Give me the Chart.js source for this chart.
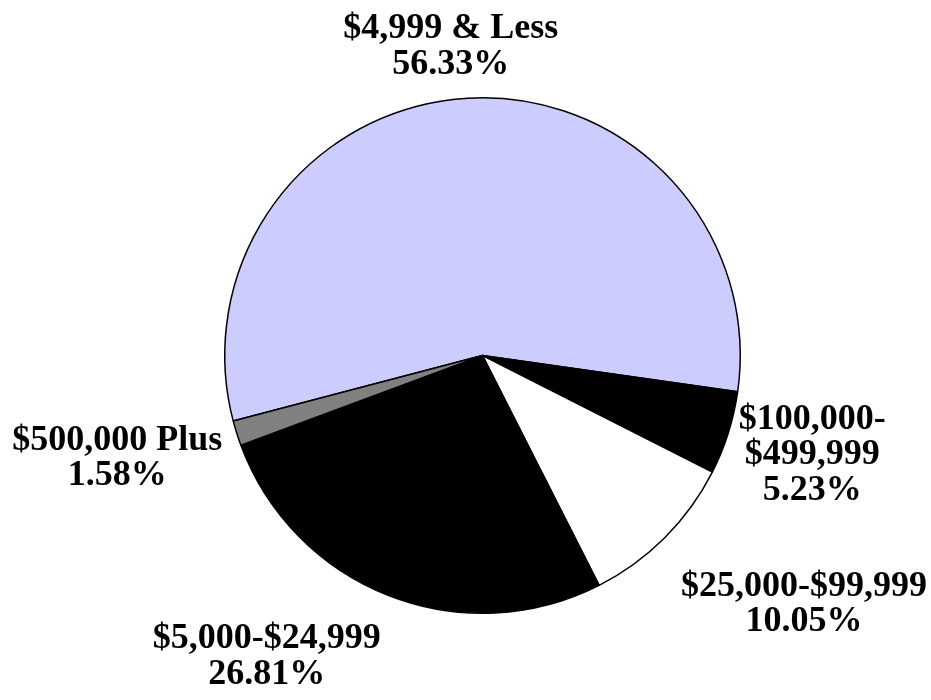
<!DOCTYPE html>
<html>
<head>
<meta charset="utf-8">
<script src="https://cdn.jsdelivr.net/npm/chart.js@4/dist/chart.umd.min.js"></script>
<style>
  html, body { margin: 0; padding: 0; background: #ffffff; }
  #wrap { width: 931px; height: 700px; }
</style>
</head>
<body>
<div id="wrap"><canvas id="c" width="931" height="700"></canvas></div>
<script>
// ---- data ----
const categories = ['$4,999 & Less', ['$100,000-', '$499,999'], '$25,000-$99,999', '$5,000-$24,999', '$500,000 Plus'];
const percentages = [56.33, 5.23, 10.05, 26.81, 1.58];
const sliceColors = ['#CCCCFF', '#000000', '#FFFFFF', '#000000', '#808080'];

// ---- label layout style (not data): extra radial distance beyond the rim, and angular nudge in degrees ----
const labelExtra = [55.6, 85.7, 147.1, 110.4, 120.9];
const labelNudge = [-2.5, -1.2, -7.6, 14.5, 2.3];
const labelFont = 'bold 36px "Liberation Serif", "Times New Roman", serif';
const lineHeight = 35.5;

const outsideLabels = {
  id: 'outsideLabels',
  afterDatasetsDraw(chart) {
    const ctx = chart.ctx;
    const meta = chart.getDatasetMeta(0);
    ctx.save();
    ctx.font = labelFont;
    ctx.fillStyle = '#000';
    ctx.textAlign = 'center';
    ctx.textBaseline = 'middle';
    meta.data.forEach((arc, i) => {
      const p = arc.getProps(['x', 'y', 'startAngle', 'endAngle', 'outerRadius'], true);
      const mid = (p.startAngle + p.endAngle) / 2 + labelNudge[i] * Math.PI / 180;
      const r = p.outerRadius + labelExtra[i];
      const cx = p.x + Math.cos(mid) * r;
      const cy = p.y + Math.sin(mid) * r + 3;
      const cat = categories[i];
      const lines = (Array.isArray(cat) ? cat.slice() : [cat]);
      lines.push(percentages[i].toFixed(2) + '%');
      lines.forEach((l, k) => {
        ctx.fillText(l, cx, cy + (k - (lines.length - 1) / 2) * lineHeight);
      });
    });
    ctx.restore();
  }
};

new Chart(document.getElementById('c'), {
  type: 'pie',
  data: {
    labels: categories,
    datasets: [{
      data: percentages,
      backgroundColor: sliceColors,
      borderColor: '#000000',
      borderWidth: 1.5
    }]
  },
  options: {
    responsive: false,
    animation: false,
    rotation: 255.3,
    layout: { padding: { left: 224, right: 190, top: 97, bottom: 86 } },
    plugins: {
      legend: { display: false },
      tooltip: { enabled: false }
    }
  },
  plugins: [outsideLabels]
});
</script>
</body>
</html>
